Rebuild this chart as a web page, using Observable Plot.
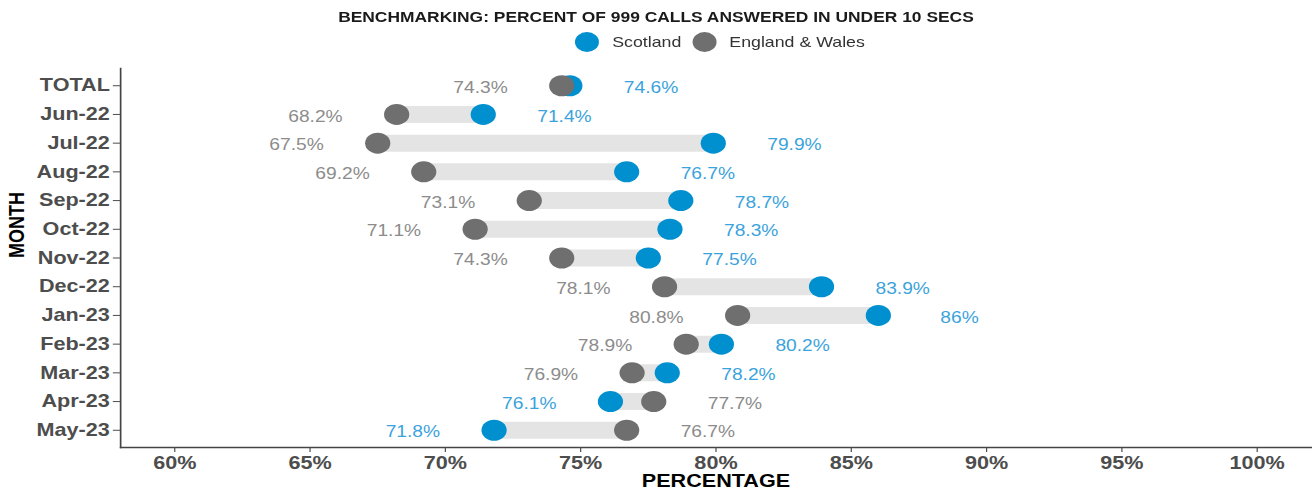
<!DOCTYPE html>
<html>
<head>
<meta charset="utf-8">
<script src="https://cdn.jsdelivr.net/npm/d3@7"></script>
<script src="https://cdn.jsdelivr.net/npm/@observablehq/plot@0.6"></script>
<style>
  html, body { margin: 0; padding: 0; background: #fff; overflow: hidden; }
  #wrap { position: relative; width: 1093px; height: 494px; transform: scaleX(1.2003); transform-origin: 0 0;
          font-family: "Liberation Sans", Arial, sans-serif; }
  #header { position: relative; height: 58px; }
  #title { position: absolute; top: 8px; left: 0; width: 1093px; text-align: center; font-weight: bold;
           font-size: 14.5px; line-height: 18px; color: #1a1a1a; }
  #legend { position: absolute; top: 32px; left: 479px; display: flex; align-items: center; height: 20px;
            font-size: 14.8px; color: #333; }
  .sw { width: 20px; height: 20px; border-radius: 50%; display: inline-block; }
  #chart svg { display: block; }
</style>
</head>
<body>
<div id="wrap">
  <div id="header">
    <div id="title"></div>
    <div id="legend"></div>
  </div>
  <div id="chart"></div>
</div>
<script>
const titleText = "BENCHMARKING: PERCENT OF 999 CALLS ANSWERED IN UNDER 10 SECS";
const seriesNames = ["Scotland", "England & Wales"];
const months = ["TOTAL", "Jun-22", "Jul-22", "Aug-22", "Sep-22", "Oct-22", "Nov-22", "Dec-22", "Jan-23", "Feb-23", "Mar-23", "Apr-23", "May-23"];
const scotland = [74.6, 71.4, 79.9, 76.7, 78.7, 78.3, 77.5, 83.9, 86, 80.2, 78.2, 76.1, 71.8];
const englandWales = [74.3, 68.2, 67.5, 69.2, 73.1, 71.1, 74.3, 78.1, 80.8, 78.9, 76.9, 77.7, 76.7];
const xTicks = [60, 65, 70, 75, 80, 85, 90, 95, 100];
const xLabel = "PERCENTAGE";
const yLabel = "MONTH";

const blue = "#0090d0", blueText = "#3ba3dc", gray = "#6f6f6f", grayText = "#8c8c8c", barColor = "#e4e4e4";
const offset = 3;

const data = months.map((m, i) => ({month: m, sc: scotland[i], ew: englandWales[i]}));

document.getElementById("title").textContent = titleText;
const legend = document.getElementById("legend");
[[seriesNames[0], blue], [seriesNames[1], gray]].forEach(([name, c], i) => {
  const sw = document.createElement("span"); sw.className = "sw"; sw.style.background = c;
  sw.style.marginLeft = i ? "9px" : "0";
  const t = document.createElement("span"); t.textContent = name; t.style.marginLeft = "11px";
  legend.append(sw, t);
});

const chart = Plot.plot({
  width: 1093,
  height: 436,
  marginTop: 10,
  marginBottom: 47,
  marginLeft: 100,
  marginRight: 1,
  style: {fontFamily: "'Liberation Sans', Arial, sans-serif", fontSize: "18px", background: "#fff"},
  x: {domain: [58, 102]},
  y: {type: "point", domain: months, padding: 0.6, round: false},
  marks: [
    Plot.frame({anchor: "left", stroke: "#444", strokeWidth: 1.4}),
    Plot.frame({anchor: "bottom", stroke: "#444", strokeWidth: 1.4}),
    Plot.axisX({ticks: xTicks, tickFormat: d => d + "%", tickSize: 5, tickPadding: 4, fontSize: 18, fontWeight: "bold", color: "#4d4d4d", label: null}),
    Plot.axisY({tickSize: 6, tickPadding: 3, fontSize: 18, fontWeight: "bold", color: "#4d4d4d", label: null}),
    Plot.ruleY(data, {y: "month", x1: "ew", x2: "sc", stroke: barColor, strokeWidth: 17}),
    Plot.dot(data, {x: "sc", y: "month", r: 10.5, fill: blue}),
    Plot.dot(data, {x: "ew", y: "month", r: 10.5, fill: gray}),
    Plot.text(data, {x: d => d.sc >= d.ew ? d.sc + offset : d.sc - offset, y: "month", text: d => d.sc + "%", fill: blueText, fontSize: 16, fontWeight: "normal", dy: 2}),
    Plot.text(data, {x: d => d.ew > d.sc ? d.ew + offset : d.ew - offset, y: "month", text: d => d.ew + "%", fill: grayText, fontSize: 16, fontWeight: "normal", dy: 2}),
    Plot.text([yLabel], {text: d => d, frameAnchor: "left", rotate: -90, dx: -86, fontSize: 18, fontWeight: "bold", fill: "#000"}),
    Plot.text([xLabel], {text: d => d, frameAnchor: "bottom", lineAnchor: "middle", dy: 34, fontSize: 18, fontWeight: "bold", fill: "#000"})
  ]
});
document.getElementById("chart").append(chart);
</script>
</body>
</html>
